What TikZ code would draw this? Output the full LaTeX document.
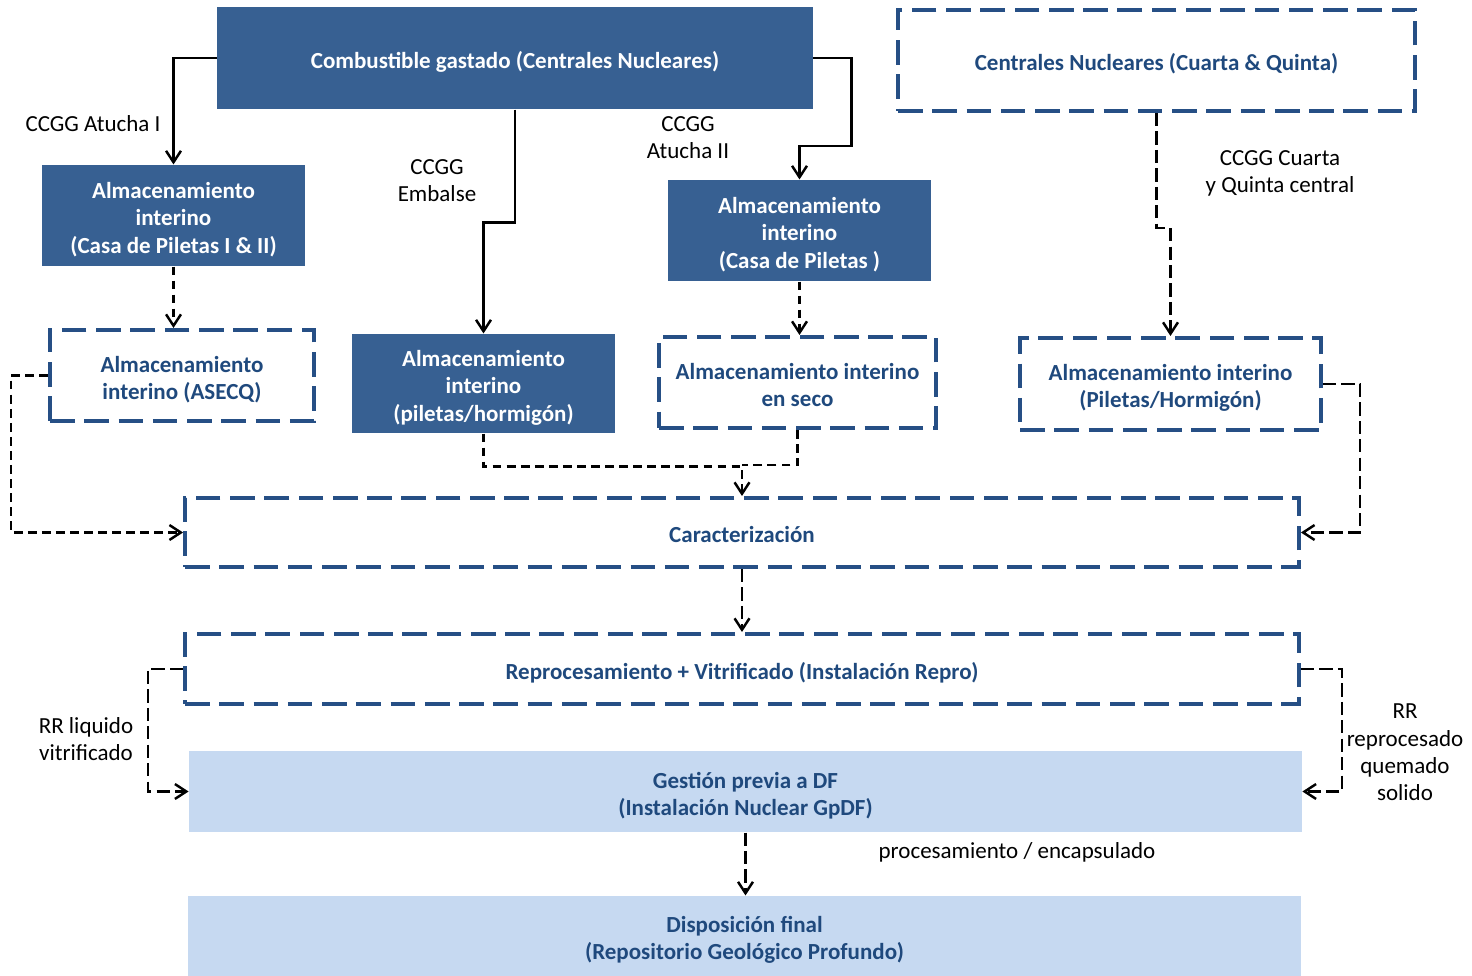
\documentclass[tikz,border=0pt]{standalone}
\usepackage{fontspec}
\setmainfont{Carlito}
\usepackage{tikz}
\usetikzlibrary{positioning, arrows.meta}

\definecolor{boxblue}{HTML}{376092}
\definecolor{lineblue}{HTML}{264F85}
\definecolor{textblue}{HTML}{1F497D}
\definecolor{lightblue}{HTML}{C6D9F1}
\newcommand{\flowfont}{\fontsize{13.1}{15.6}\selectfont}
\newcommand{\topline}{\rule{0pt}{1.05\baselineskip}}

\begin{document}
\begin{tikzpicture}[
    x = 0.02cm,
    y = -0.02cm,
    > = {Straight Barb[length=6.5pt, width=8.5pt]},
    semithick
]

% Setup the styles for the boxes and arrows
\tikzstyle{boxtext}=[align=center, inner sep=0pt, execute at begin node=\topline, execute at end node=\strut]
\tikzstyle{darkbox}=[boxtext, fill=boxblue, text=white, font=\flowfont\bfseries]
\tikzstyle{dashbox}=[boxtext, draw=lineblue, line width=2.3pt, dash pattern=on 14pt off 5.5pt, text=textblue, font=\flowfont\bfseries]
\tikzstyle{lightbox}=[boxtext, fill=lightblue, text=textblue, font=\flowfont\bfseries]
\tikzstyle{lbl}=[boxtext, font=\flowfont]
\tikzstyle{flow}=[->, line width=1.4pt]
\tikzstyle{dflow}=[->, line width=1.4pt, dash pattern=on 5pt off 3pt]
\tikzstyle{ldflow}=[->, line width=1.4pt, dash pattern=on 7.5pt off 3pt]

\useasboundingbox (0,0) rectangle (1472,976);

% Draw the boxes
\node[darkbox, minimum width=11.92cm, minimum height=2.04cm] (comb) at (515,58) {Combustible gastado (Centrales Nucleares)};
\node[darkbox, minimum width=5.26cm, minimum height=2.02cm] (casa12) at (173.5,215.5) {\topline Almacenamiento\\interino\\(Casa de Piletas I \& II)};
\node[dashbox, minimum width=5.28cm, minimum height=1.82cm] (asecq) at (182,375.5) {\topline Almacenamiento\\interino (ASECQ)};
\node[darkbox, minimum width=5.26cm, minimum height=1.98cm] (horm) at (483.5,383.5) {\topline Almacenamiento\\interino\\(piletas/hormigón)};
\node[darkbox, minimum width=5.26cm, minimum height=2.02cm] (casa) at (799.5,230.5) {\topline Almacenamiento\\interino\\(Casa de Piletas )};
\node[dashbox, minimum width=5.54cm, minimum height=1.82cm] (seco) at (797.5,382.5) {\topline Almacenamiento interino\\en seco};
\node[dashbox, minimum width=10.34cm, minimum height=2.02cm] (cn45) at (1156.5,60.5) {Centrales Nucleares (Cuarta \& Quinta)};
\node[dashbox, minimum width=6.02cm, minimum height=1.84cm] (ph) at (1170.5,384) {\topline Almacenamiento interino\\(Piletas/Hormigón)};
\node[dashbox, minimum width=22.28cm, minimum height=1.38cm] (carac) at (742,532.5) {Caracterización};
\node[dashbox, minimum width=22.28cm, minimum height=1.40cm] (repro) at (742,669) {Reprocesamiento + Vitrificado (Instalación Repro)};
\node[lightbox, minimum width=22.26cm, minimum height=1.62cm] (gest) at (745.5,791.5) {\topline Gestión previa a DF\\(Instalación Nuclear GpDF)};
\node[lightbox, minimum width=22.26cm, minimum height=1.60cm] (disp) at (744.5,936) {\topline Disposición final\\(Repositorio Geológico Profundo)};

% Draw the labels
\node[lbl] (l1) at (93,121) {CCGG Atucha I};
\node[lbl] (l2) at (437,178) {\topline CCGG\\Embalse};
\node[lbl] (l3) at (688,134.5) {\topline CCGG\\Atucha II};
\node[lbl] (l4) at (1280,168.5) {\topline CCGG Cuarta\\y Quinta central};
\node[lbl] (l5) at (86,736.5) {\topline RR liquido\\vitrificado};
\node[lbl] (l6) at (1405,749.5) {\topline RR\\reprocesado\\quemado\\solido};
\node[lbl] (l7) at (1017,848) {procesamiento /  encapsulado};

% Draw the transitions
\draw[flow] (comb.west) -| (casa12.north);
\draw[flow] (comb.south) -- ++(0,113) -| (horm.north);
\draw[flow] (comb.east) -| ++(38,88) -| (casa.north);
\draw[dflow] (casa12.south) -- (casa12.south |- asecq.north);
\draw[dflow] (casa.south) -- (casa.south |- seco.north);
\draw[ldflow] (cn45.south) -- ++(0,115) -| (ph.north);
\draw[dflow] (asecq.west) -- ++(-37,0) |- (carac.west);
\draw[dflow] (horm.south) -- ++(0,33) -| (carac.north);
\draw[dflow, -] (seco.south) -- ++(0,35) -- ++(-55.5,0);
\draw[ldflow] (ph.east) -- ++(37,0) |- (carac.east);
\draw[ldflow] (carac.south) -- (repro.north);
\draw[ldflow] (repro.west) -- ++(-35,0) |- (gest.west);
\draw[ldflow] (repro.east) -- ++(41,0) |- (gest.east);
\draw[ldflow] (gest.south) -- (gest.south |- disp.north);

\end{tikzpicture}
\end{document}
